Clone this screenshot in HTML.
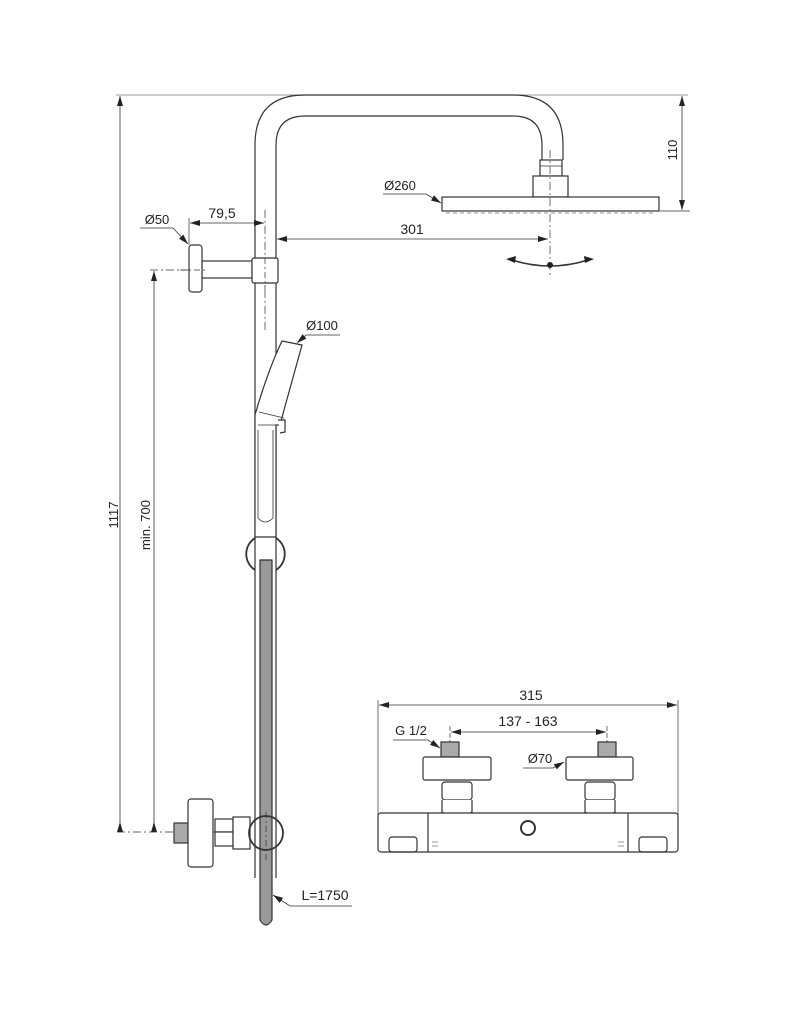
<!DOCTYPE html>
<html><head><style>html,body{margin:0;padding:0;background:#fff}svg{display:block}</style></head><body>
<svg width="791" height="1024" viewBox="0 0 791 1024" xmlns="http://www.w3.org/2000/svg" font-family="Liberation Sans, sans-serif" fill="none" stroke="#333" stroke-width="1.2">
<defs>
<marker id="a" viewBox="0 0 10 6" refX="10" refY="3" markerWidth="10" markerHeight="6" orient="auto-start-reverse" markerUnits="userSpaceOnUse"><path d="M0,0L10,3L0,6z" fill="#222" stroke="none"/></marker>
</defs>
<rect width="791" height="1024" fill="#fff" stroke="none"/>
<line x1="116" y1="95" x2="688" y2="95" stroke-width="0.8" stroke="#777"/>
<line x1="660" y1="211" x2="690" y2="211" stroke-width="0.8"/>
<line x1="120" y1="832" x2="120" y2="96" stroke-width="0.8" marker-end="url(#a)"/>
<text transform="translate(118,515) rotate(-90)" font-size="13" fill="#222" stroke="none" text-anchor="middle">1117</text>
<line x1="154" y1="832" x2="154" y2="271" stroke-width="0.8" marker-end="url(#a)"/>
<text transform="translate(150,525) rotate(-90)" font-size="13" fill="#222" stroke="none" text-anchor="middle">min. 700</text>
<line x1="150" y1="270" x2="205" y2="270" stroke-width="0.8" stroke-dasharray="8,3,2,3"/>
<line x1="117" y1="832" x2="215" y2="832" stroke-width="0.8" stroke-dasharray="8,3,2,3"/>
<path d="M120,822 L117,832 L123,832z M154,822 L151,832 L157,832z" fill="#222" stroke="none"/>
<line x1="682" y1="96" x2="682" y2="210" stroke-width="0.8" marker-start="url(#a)" marker-end="url(#a)"/>
<text transform="translate(677,150) rotate(-90)" font-size="13" fill="#222" stroke="none" text-anchor="middle">110</text>
<path d="M255,878 L255,145 Q255,95 305,95 L513,95 Q563,95 563,145 L563,160" fill="#fff"/>
<path d="M276,878 L276,145 Q276,116 305,116 L513,116 Q542,116 542,145 L542,160"/>
<line x1="265" y1="210" x2="265" y2="330" stroke-width="0.7" stroke-dasharray="8,3,2,3"/>
<rect x="540" y="160" width="22" height="16" fill="#fff"/>
<line x1="540" y1="166" x2="562" y2="166" stroke-width="0.7"/>
<rect x="533" y="176" width="35" height="21" fill="#fff"/>
<rect x="442" y="197" width="217" height="14" fill="#fff"/>
<line x1="446" y1="213" x2="655" y2="213" stroke-width="1" stroke-dasharray="4,3" stroke="#999"/>
<line x1="550" y1="150" x2="550" y2="275" stroke-width="0.7" stroke-dasharray="8,3,2,3"/>
<path d="M512,260 Q550,272 588,260" stroke-width="1.5"/>
<path d="M506,259 L516,256 L515,263z M594,259 L584,256 L585,263z" fill="#222" stroke="none"/>
<circle cx="550" cy="265" r="3" fill="#222" stroke="none"/>
<line x1="277" y1="239" x2="548" y2="239" stroke-width="0.8" marker-start="url(#a)" marker-end="url(#a)"/>
<text x="412" y="234" font-size="14" fill="#222" stroke="none" text-anchor="middle">301</text>
<text x="400" y="190" font-size="13" fill="#222" stroke="none" text-anchor="middle">Ø260</text>
<polyline points="383,194 426,194 441,203" stroke-width="0.8" marker-end="url(#a)"/>
<rect x="202" y="261" width="50" height="17" fill="#fff"/>
<rect x="189" y="245" width="13" height="47" rx="3" fill="#fff"/>
<rect x="252" y="258" width="26" height="25" rx="2" fill="#fff"/>
<line x1="265" y1="258" x2="265" y2="290" stroke-width="0.7" stroke-dasharray="6,3,2,3"/>
<line x1="180" y1="270" x2="205" y2="270" stroke-width="0.7" stroke-dasharray="6,3,2,3"/>
<line x1="189" y1="218" x2="189" y2="245" stroke-width="0.7"/>
<line x1="190" y1="223" x2="264" y2="223" stroke-width="0.8" marker-start="url(#a)" marker-end="url(#a)"/>
<text x="222" y="218" font-size="14" fill="#222" stroke="none" text-anchor="middle">79,5</text>
<text x="157" y="224" font-size="13" fill="#222" stroke="none" text-anchor="middle">Ø50</text>
<polyline points="140,228 173,228 188,244" stroke-width="0.8" marker-end="url(#a)"/>
<path d="M282,341 L302,345 L284,410 L280,425 L276,425 L276,537 L255,537 L255,415 Q268,370 282,341z" fill="#fff"/>
<line x1="259" y1="412" x2="284" y2="418" stroke-width="0.8"/>
<line x1="258" y1="425" x2="278" y2="425" stroke-width="0.8"/>
<path d="M258,430 L258,518 Q265,526 273,518 L273,430" stroke-width="0.8"/>
<path d="M278,420 L285,420 L285,432 L280,433" fill="#fff"/>
<text x="322" y="330" font-size="13" fill="#222" stroke="none" text-anchor="middle">Ø100</text>
<polyline points="340,335 306,335 297,343" stroke-width="0.8" marker-end="url(#a)"/>
<path d="M260,560 L272,560 L272,920 Q266,930 260,920 Z" fill="#999" stroke="#333"/>
<path d="M255,538 A19,19 0 0 0 255,570 M276,538 A19,19 0 0 1 276,570" stroke-width="1.8"/>
<rect x="174" y="823" width="14" height="20" fill="#aaa"/>
<rect x="188" y="799" width="25" height="68" rx="3" fill="#fff"/>
<rect x="215" y="819" width="18" height="13" fill="#fff"/>
<rect x="215" y="832" width="18" height="14" fill="#fff"/>
<rect x="233" y="817" width="17" height="32" fill="#fff"/>
<circle cx="266" cy="833" r="17" fill="none" stroke-width="1.8"/>
<path d="M255,849 L255,878 M276,849 L276,878" stroke-width="1"/>
<line x1="266" y1="812" x2="266" y2="860" stroke-width="0.7" stroke-dasharray="6,3,2,3"/>
<text x="325" y="900" font-size="14" fill="#222" stroke="none" text-anchor="middle">L=1750</text>
<polyline points="352,906 290,906 273,895" stroke-width="0.8" marker-end="url(#a)"/>
<line x1="378" y1="700" x2="378" y2="815" stroke-width="0.7"/>
<line x1="678" y1="700" x2="678" y2="815" stroke-width="0.7"/>
<line x1="379" y1="705" x2="677" y2="705" stroke-width="0.8" marker-start="url(#a)" marker-end="url(#a)"/>
<text x="531" y="700" font-size="14" fill="#222" stroke="none" text-anchor="middle">315</text>
<line x1="451" y1="732" x2="606" y2="732" stroke-width="0.8" marker-start="url(#a)" marker-end="url(#a)"/>
<line x1="450" y1="726" x2="450" y2="760" stroke-width="0.7" stroke-dasharray="5,2"/>
<line x1="607" y1="726" x2="607" y2="760" stroke-width="0.7" stroke-dasharray="5,2"/>
<text x="528" y="726" font-size="14" fill="#222" stroke="none" text-anchor="middle">137 - 163</text>
<text x="411" y="735" font-size="13" fill="#222" stroke="none" text-anchor="middle">G 1/2</text>
<polyline points="393,740 428,740 440,748" stroke-width="0.8" marker-end="url(#a)"/>
<text x="540" y="763" font-size="13" fill="#222" stroke="none" text-anchor="middle">Ø70</text>
<polyline points="523,768 553,768 564,762" stroke-width="0.8" marker-end="url(#a)"/>
<g>
<rect x="441" y="742" width="18" height="15" fill="#aaa"/>
<rect x="598" y="742" width="18" height="15" fill="#aaa"/>
<rect x="423" y="757" width="68" height="23" rx="2" fill="#fff"/>
<rect x="566" y="757" width="67" height="23" rx="2" fill="#fff"/>
<rect x="442" y="782" width="30" height="18" rx="3" fill="#fff"/>
<rect x="585" y="782" width="30" height="18" rx="3" fill="#fff"/>
<path d="M442,800 L442,812 Q457,822 472,812 L472,800" fill="#fff"/>
<path d="M585,800 L585,812 Q600,822 615,812 L615,800" fill="#fff"/>
<rect x="378" y="813" width="300" height="39" rx="3" fill="#fff"/>
<line x1="428" y1="813" x2="428" y2="852"/>
<line x1="628" y1="813" x2="628" y2="852"/>
<rect x="389" y="837" width="28" height="15" rx="3"/>
<rect x="639" y="837" width="28" height="15" rx="3"/>
<circle cx="528" cy="828" r="7" stroke-width="2"/>
<path d="M432,842 h6 M432,846 h6 M618,842 h6 M618,846 h6" stroke-width="0.6"/>
</g>
</svg>
</body></html>
